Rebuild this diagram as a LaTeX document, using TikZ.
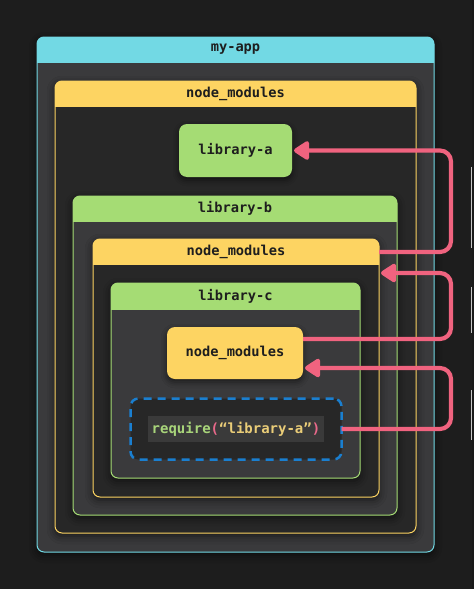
\documentclass[tikz,border=0pt]{standalone}
\usepackage{fontspec}
\setmonofont{DejaVu Sans Mono}
\usetikzlibrary{arrows.meta,shadows.blur}
\definecolor{bg}{HTML}{1D1D1D}
\definecolor{cy}{HTML}{72D9E4}
\definecolor{yl}{HTML}{FDD462}
\definecolor{gr}{HTML}{A5DC74}
\definecolor{pk}{HTML}{F0637F}
\definecolor{bl}{HTML}{1A7FD0}
\definecolor{bodyA}{HTML}{3A3A3C}
\definecolor{bodyB}{HTML}{272727}
\definecolor{ink}{HTML}{1E1E1E}
\definecolor{codebg}{HTML}{3A3A3A}
\definecolor{codeg}{HTML}{A8D47A}
\definecolor{codep}{HTML}{E8698A}
\definecolor{codey}{HTML}{EACD78}
\newcommand\mybox[9]{%
  \node[cbox, draw=#7, fill=#8, minimum width={(#4-#2)*1pt}, minimum height={(#5-#3)*1pt}] (#1) at ({(#2+#4)/2},{(#3+#5)/2}) {};
  \begin{scope}
    \clip (#2-2,#3-2) rectangle (#4+2,#6);
    \fill[#7, rounded corners=7pt] (#2,#3) rectangle (#4,#6+12);
  \end{scope}
  \node[ttl] (#1T) at ({(#2+#4)/2},{(#3+#6)/2}) {#9};
}
\tikzset{
  cbox/.style={rectangle, rounded corners=7pt, line width=1pt, inner sep=0pt, outer sep=0pt,
    blur shadow={shadow xshift=0pt, shadow yshift=-3pt, shadow blur radius=8pt, shadow opacity=60}},
  ttl/.style={font=\ttfamily\bfseries\fontsize{13.7}{16}\selectfont, text=ink, inner sep=0pt},
  pill/.style={rectangle, rounded corners=8pt, inner sep=0pt, outer sep=0pt,
    font=\ttfamily\bfseries\fontsize{13.7}{16}\selectfont, text=ink,
    blur shadow={shadow xshift=0pt, shadow yshift=-3pt, shadow blur radius=6pt, shadow opacity=55}},
  arr/.style={draw=pk, line width=4.2pt, rounded corners=11pt, shorten >=2pt,
    -{Triangle[round, length=17pt, width=21pt]}},
}
\begin{document}
\begin{tikzpicture}[x=1pt,y=-1pt]
\fill[bg] (0,0) rectangle (474,589);
\useasboundingbox (0,0) rectangle (474,589);
% edge artifacts
\fill[black!90] (472,0) rectangle (474,589);
\fill[gray!45] (470.5,167) rectangle (472,248);
\fill[gray!45] (470.5,287) rectangle (472,333);
\fill[gray!45] (470.5,390) rectangle (472,440);

\mybox{myapp}{37}{37}{434}{552}{62}{cy}{bodyA}{my-app}
\mybox{nmA}{55}{81}{416}{533}{106}{yl}{bodyB}{node\_modules}
\node[pill, fill=gr, minimum width=113pt, minimum height=53pt] (liba) at (235.5,150.5) {library-a};
\mybox{libb}{73}{196}{397}{515}{221}{gr}{bodyA}{library-b}
\mybox{nmB}{93}{239}{379}{497}{264}{yl}{bodyB}{node\_modules}
\mybox{libc}{111}{283}{360}{478}{309}{gr}{bodyA}{library-c}
\node[pill, fill=yl, minimum width=136pt, minimum height=52pt] (nmC) at (235,353) {node\_modules};
\node[rectangle, rounded corners=8pt, draw=bl, fill=bodyB, line width=2.5pt,
  dash pattern=on 8pt off 6pt, minimum width=211pt, minimum height=61pt, outer sep=0pt] (req) at (236,429) {};
\node[fill=codebg, minimum width=176pt, minimum height=26pt, inner sep=0pt,
  font=\ttfamily\bfseries\fontsize{14}{16}\selectfont] (code) at (236,429)
  {\textcolor{codeg}{require}\textcolor{codep}{(}\textcolor{codey}{“library-a”}\textcolor{codep}{)}};

\coordinate (rx) at (451,0);
\coordinate (s1) at ([yshift=-13pt]nmB.north east);
\coordinate (s2) at ([yshift=14pt]nmC.east);
\coordinate (e2) at ([yshift=-34pt]nmB.north east);
\coordinate (e3) at ([yshift=-15pt]nmC.east);
\draw[arr] (s1) -- (s1 -| rx) -- (rx |- liba.east) -- (liba.east);
\draw[arr] (s2) -- (s2 -| rx) -- (rx |- e2) -- (e2);
\draw[arr] (req.east) -- (req.east -| rx) -- (rx |- e3) -- (e3);
\end{tikzpicture}
\end{document}
